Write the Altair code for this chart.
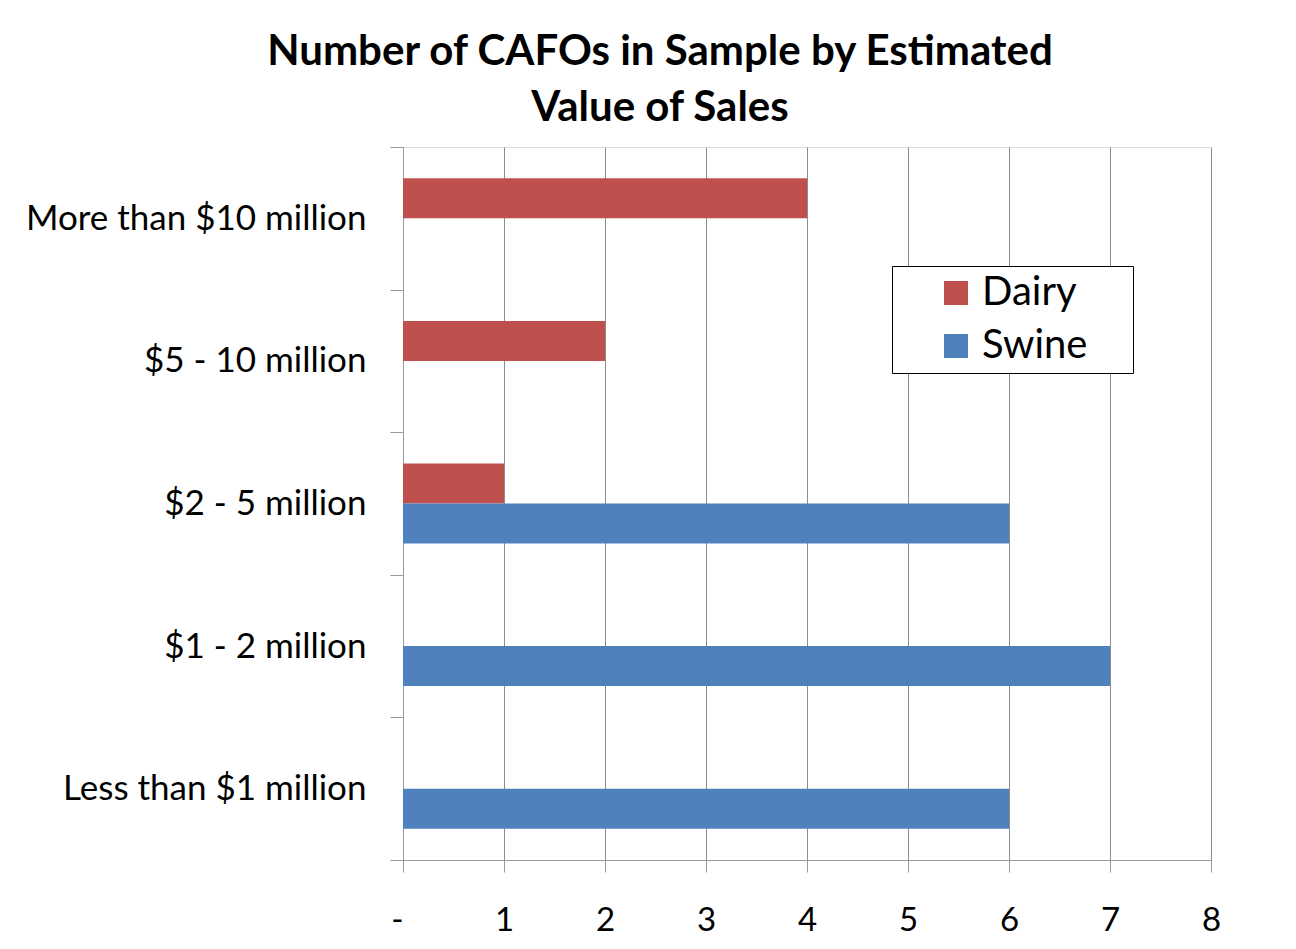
import altair as alt
import pandas as pd

categories = ["More than $10 million", "$5 - 10 million", "$2 - 5 million",
              "$1 - 2 million", "Less than $1 million"]
series_names = ["Dairy", "Swine"]
dairy = [4, 2, 1, None, None]
swine = [None, None, 6, 7, 6]
x_ticks = [0, 1, 2, 3, 4, 5, 6, 7, 8]
colors = ["#C0504D", "#4F81BD"]

rows = []
for cat, d, s in zip(categories, dairy, swine):
    if d is not None:
        rows.append({"category": cat, "series": "Dairy", "value": d})
    if s is not None:
        rows.append({"category": cat, "series": "Swine", "value": s})
df = pd.DataFrame(rows)

FONT = "Lato"
AXIS_GRAY = "#9a9a9a"

bars = alt.Chart(df).mark_bar().encode(
    x=alt.X("value:Q",
            scale=alt.Scale(domain=[0, 8], nice=False, zero=True),
            axis=alt.Axis(values=x_ticks, title=None, grid=True,
                          gridColor="#8c8c8c", gridWidth=1,
                          domainColor=AXIS_GRAY, tickColor=AXIS_GRAY,
                          tickSize=12, labelPadding=32,
                          labelFontSize=33, labelFont=FONT, labelColor="#000000",
                          labelAlign={"condition": {"test": "datum.value == 0", "value": "right"},
                                      "value": "center"},
                          labelExpr="datum.value == 0 ? '-' : datum.label")),
    y=alt.Y("category:N", sort=categories,
            scale=alt.Scale(paddingInner=0, paddingOuter=0),
            axis=alt.Axis(title=None, grid=False, tickBand="extent",
                          domainColor=AXIS_GRAY, tickColor=AXIS_GRAY,
                          tickSize=13, labelPadding=24,
                          labelFontSize=35, labelFont=FONT, labelColor="#000000",
                          labelLimit=420)),
    yOffset=alt.YOffset("series:N", sort=series_names,
                        scale=alt.Scale(paddingInner=0, paddingOuter=0.783)),
    color=alt.Color("series:N", sort=series_names,
                    scale=alt.Scale(domain=series_names, range=colors),
                    legend=alt.Legend(title="MM", titleOrient="right",
                                      titleColor="#ffffff", titleFontSize=20,
                                      titlePadding=1, titleFont=FONT,
                                      orient="none",
                                      legendX=489, legendY=119,
                                      strokeColor="#000000", fillColor="#ffffff",
                                      padding=7, symbolType="square",
                                      symbolSize=576, symbolStrokeWidth=0,
                                      symbolOffset=37, labelOffset=6,
                                      labelFontSize=40, labelFont=FONT,
                                      labelColor="#000000", rowPadding=13)),
)

chart = bars.properties(
    width=808, height=713,
    title=alt.Title(["Number of CAFOs in Sample by Estimated", "Value of Sales"],
                    font=FONT, fontSize=42, fontWeight="bold", color="#000000",
                    anchor="middle", dx=-147, lineHeight=56, offset=0),
    autosize=alt.AutoSizeParams(type="none"),
    padding={"left": 395, "top": 139, "right": 77, "bottom": 81},
).configure_view(stroke=None).configure(background="#ffffff")

chart.save("out.html", embed_options={"renderer": "svg", "actions": False})
